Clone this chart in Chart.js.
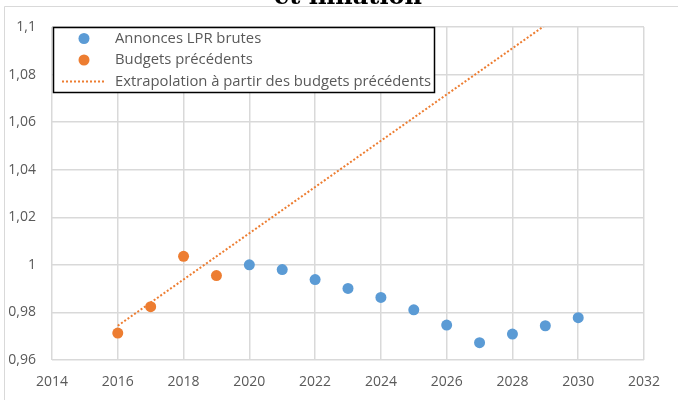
<!DOCTYPE html>
<html>
<head>
<meta charset="utf-8">
<script src="https://cdn.jsdelivr.net/npm/chart.js@4/dist/chart.umd.min.js"></script>
<style>
  html, body { margin: 0; padding: 0; background: #fff; }
  #wrap { width: 678px; height: 400px; position: relative; }
</style>
</head>
<body>
<div id="wrap"><canvas id="myChart" width="678" height="400"></canvas></div>
<script>
// Annonces LPR brutes (blue)
var lprYears = [2020, 2021, 2022, 2023, 2024, 2025, 2026, 2027, 2028, 2029, 2030];
var lprValues = [1.0, 0.998, 0.9938, 0.9901, 0.9863, 0.9811, 0.9747, 0.9673, 0.9709, 0.9744, 0.9778];
// Budgets précédents (orange)
var budgetYears = [2016, 2017, 2018, 2019];
var budgetValues = [0.9713, 0.9824, 1.0036, 0.9955];
// Extrapolation (dotted line end points)
var extraYears = [2016, 2030];
var extraValues = [0.9744, 1.1105];

var labels = ['Annonces LPR brutes', 'Budgets précédents', 'Extrapolation à partir des budgets précédents'];
var blue = '#5B9BD5';
var orange = '#ED7D31';
var textColor = '#595959';
var fontFamily = "'Open Sans', 'Liberation Sans', sans-serif";

function toPoints(xs, ys) {
    var pts = [];
    for (var i = 0; i < xs.length; i++) pts.push({x: xs[i], y: ys[i]});
    return pts;
}

function frFormat(v) {
    var r = Math.round(v * 100) / 100;
    return String(r).replace('.', ',');
}

// frame, cut title and legend box
var decorations = {
    id: 'decorations',
    beforeDraw: function(chart) {
        var ctx = chart.ctx;
        ctx.save();
        ctx.fillStyle = '#fff';
        ctx.fillRect(0, 0, chart.width, chart.height);
        ctx.strokeStyle = '#d9d9d9';
        ctx.lineWidth = 1;
        ctx.beginPath();
        ctx.moveTo(4.5, 400);
        ctx.lineTo(4.5, 6.5);
        ctx.lineTo(678, 6.5);
        ctx.stroke();
        ctx.fillStyle = '#000';
        ctx.font = "bold 24px 'DejaVu Serif'";
        ctx.textAlign = 'center';
        ctx.textBaseline = 'alphabetic';
        ctx.fillText('et inflation', 348, 4);
        ctx.restore();
    },
    afterDraw: function(chart) {
        var ctx = chart.ctx;
        ctx.save();
        ctx.fillStyle = '#fff';
        ctx.fillRect(53, 27, 382, 66);
        ctx.strokeStyle = '#000';
        ctx.lineWidth = 1.5;
        ctx.strokeRect(53.5, 27.5, 381, 65);
        var rows = [38.5, 60, 81.5];
        ctx.fillStyle = blue;
        ctx.beginPath(); ctx.arc(84, rows[0], 5.5, 0, Math.PI * 2); ctx.fill();
        ctx.fillStyle = orange;
        ctx.beginPath(); ctx.arc(84, rows[1], 5.5, 0, Math.PI * 2); ctx.fill();
        ctx.strokeStyle = orange;
        ctx.lineWidth = 2;
        ctx.setLineDash([2, 2]);
        ctx.beginPath(); ctx.moveTo(62, rows[2]); ctx.lineTo(106, rows[2]); ctx.stroke();
        ctx.setLineDash([]);
        ctx.fillStyle = textColor;
        ctx.font = '14.8px ' + fontFamily;
        ctx.textAlign = 'left';
        ctx.textBaseline = 'middle';
        for (var i = 0; i < labels.length; i++) ctx.fillText(labels[i], 115, rows[i]);
        ctx.restore();
    }
};

var ctx = document.getElementById('myChart').getContext('2d');
var myChart = new Chart(ctx, {
    type: 'scatter',
    data: {
        datasets: [{
            label: labels[0],
            data: toPoints(lprYears, lprValues),
            backgroundColor: blue,
            borderWidth: 0,
            pointRadius: 5.5,
            order: 1
        }, {
            label: labels[1],
            data: toPoints(budgetYears, budgetValues),
            backgroundColor: orange,
            borderWidth: 0,
            pointRadius: 5.5,
            order: 1
        }, {
            label: labels[2],
            data: toPoints(extraYears, extraValues),
            showLine: true,
            borderColor: orange,
            borderWidth: 2,
            borderDash: [2, 2],
            pointRadius: 0,
            order: 3
        }]
    },
    options: {
        responsive: false,
        animation: false,
        layout: { padding: { left: 0, top: 27, right: 34, bottom: 0 } },
        plugins: {
            legend: { display: false },
            tooltip: { enabled: false }
        },
        scales: {
            x: {
                type: 'linear',
                min: 2014,
                max: 2032,
                afterFit: function(scale) { scale.height = 40; },
                ticks: {
                    stepSize: 2,
                    padding: 14,
                    color: textColor,
                    font: { family: fontFamily, size: 14 },
                    maxRotation: 0,
                    callback: function(v) { return String(v); }
                },
                grid: { color: '#d9d9d9', lineWidth: 1.5, drawTicks: false },
                border: { display: false }
            },
            y: {
                min: 0.96,
                max: 1.1,
                afterFit: function(scale) { scale.width = 52; },
                ticks: {
                    stepSize: 0.02,
                    padding: 16,
                    color: textColor,
                    font: { family: fontFamily, size: 14 },
                    callback: function(v) { return frFormat(v); }
                },
                grid: { color: '#d9d9d9', lineWidth: 1.5, drawTicks: false },
                border: { display: false }
            }
        }
    },
    plugins: [decorations]
});
</script>
</body>
</html>
